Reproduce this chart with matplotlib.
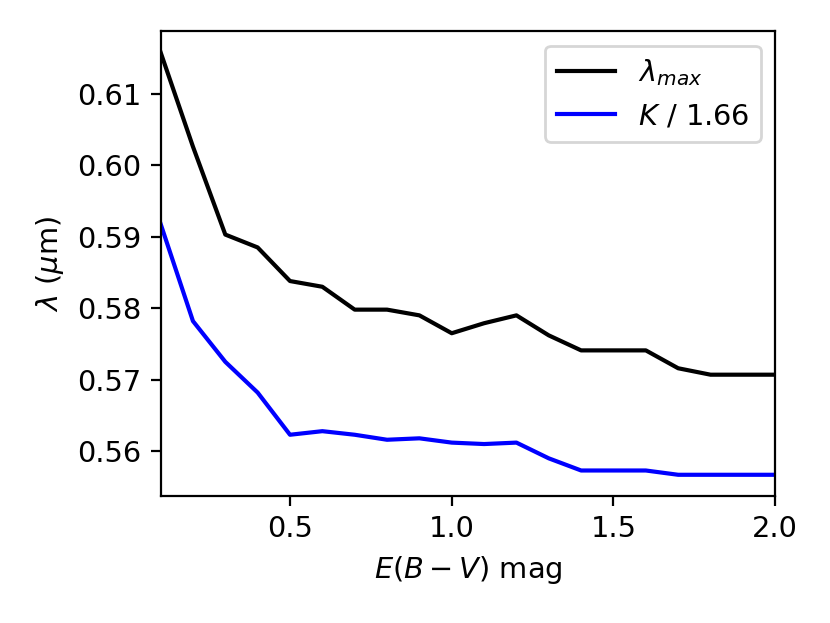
import matplotlib
matplotlib.use("Agg")
import matplotlib.pyplot as plt
import numpy as np

plt.rcParams['font.size'] = 10.4

# E(B-V) grid
ebv = [0.1, 0.2, 0.3, 0.4, 0.5, 0.6, 0.7, 0.8, 0.9, 1.0,
       1.1, 1.2, 1.3, 1.4, 1.5, 1.6, 1.7, 1.8, 1.9, 2.0]

# lambda_max (um)
lam_max = [0.6158, 0.6026, 0.5903, 0.5885, 0.5838, 0.5830, 0.5798, 0.5798, 0.5790, 0.5765,
           0.5779, 0.5790, 0.5762, 0.5741, 0.5741, 0.5741, 0.5716, 0.5707, 0.5707, 0.5707]

# K / 1.66
k_scaled = [0.5918, 0.5782, 0.5725, 0.5682, 0.5623, 0.5628, 0.5623, 0.5616, 0.5618, 0.5612,
            0.5610, 0.5612, 0.5590, 0.5573, 0.5573, 0.5573, 0.5567, 0.5567, 0.5567, 0.5567]

fig, ax = plt.subplots(figsize=(4.15, 3.115), dpi=200)
fig.subplots_adjust(left=0.1935, right=0.934, top=0.950, bottom=0.204)

ax.plot(ebv, lam_max, color='black', label=r'$\lambda_{max}$')
ax.plot(ebv, k_scaled, color='blue', label=r'$K$ / 1.66')
ax.set_xlim(0.1, 2.0)
ax.set_xlabel(r'$E(B-V)$ mag')
ax.set_ylabel(r'$\lambda$ ($\mu$m)')
ax.legend(loc='upper right')

fig.savefig('out.png', dpi=200)
